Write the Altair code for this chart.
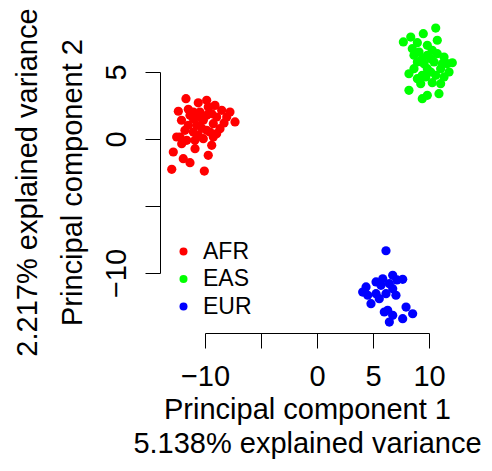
import altair as alt
import pandas as pd

afr_x = [-11.70, -9.85, -12.38, -11.49, -9.11, -7.77, -7.32, -8.51, -9.40, -10.45,
         -11.04, -10.15, -9.26, -11.49, -10.74, -8.66, -11.79, -9.85, -10.60, -12.53,
         -9.26, -11.63, -10.15, -12.08, -9.40, -10.89, -12.83, -9.71, -11.94, -11.34,
         -12.97, -10.06, -11.04, -9.85, -10.45, -9.71, -8.96, -11.34, -10.29, -11.04,
         -9.55, -8.06, -8.96, -12.23, -10.60, -10.90, -8.30, -12.10]
afr_y = [3.01, 2.89, 2.07, 2.22, 2.51, 2.01, 1.27, 2.14, 1.89, 2.01,
         1.51, 1.40, 1.14, 1.02, 1.02, 0.77, 0.65, 0.65, 0.28, 0.15,
         0.15, -0.10, 0.02, -0.35, -0.47, -0.72, -0.97, -1.22, -1.47, -1.77,
         -2.26, -2.39, 2.01, 1.77, 1.64, 2.39, 1.64, 1.77, 0.80, 0.52,
         0.52, 1.64, 0.40, 0.15, 2.70, -0.10, 1.20, 1.40]

eas_x = [10.60, 8.37, 9.49, 7.71, 8.96, 10.74, 8.51, 9.85, 9.85, 8.66,
         10.74, 11.34, 12.08, 11.63, 10.45, 9.55, 8.66, 9.85, 11.04, 11.79,
         8.21, 9.40, 10.60, 11.34, 9.26, 10.29, 8.21, 9.85, 10.89, 9.40,
         9.11, 10.29, 10.15, 9.40, 11.19, 8.96, 10.15, 9.71, 8.96, 11.04]
eas_y = [8.28, 7.61, 7.86, 7.24, 7.19, 7.37, 6.74, 6.99, 6.25, 6.25,
         6.37, 6.12, 5.69, 5.62, 5.75, 5.62, 5.25, 5.25, 5.25, 5.00,
         4.87, 4.75, 4.75, 4.63, 4.13, 4.20, 3.63, 3.26, 3.38, 3.01,
         6.49, 6.62, 5.99, 5.99, 5.62, 5.75, 5.00, 4.63, 4.50, 4.13]

eur_x = [6.16, 7.65, 6.76, 5.87, 4.38, 5.71, 6.46, 6.16, 7.05, 4.08,
         4.82, 6.31, 7.95, 8.54, 7.65, 6.46, 6.76, 5.27, 4.53, 5.56,
         6.01, 5.27, 6.76, 7.14]
eur_y = [-8.34, -10.47, -10.17, -10.43, -11.04, -10.92, -10.80, -11.54, -11.66, -11.42,
         -12.29, -12.78, -12.54, -13.04, -13.41, -13.66, -13.16, -10.67, -11.66, -11.92,
         -12.91, -11.54, -11.17, -10.52]

groups = ["AFR", "EAS", "EUR"]
colors = ["#FF0000", "#00FF00", "#0000FF"]
x_ticks = [-10, -5, 0, 5, 10]
y_ticks = [-10, -5, 0, 5]

df = pd.concat([
    pd.DataFrame({"pc1": afr_x, "pc2": afr_y, "pop": "AFR"}),
    pd.DataFrame({"pc1": eas_x, "pc2": eas_y, "pop": "EAS"}),
    pd.DataFrame({"pc1": eur_x, "pc2": eur_y, "pop": "EUR"}),
], ignore_index=True)

FONT = "Liberation Sans"
FS = 29

chart = alt.Chart(df).mark_circle(size=85, opacity=1).encode(
    x=alt.X("pc1:Q",
            scale=alt.Scale(domain=[-10, 10], nice=False, zero=False),
            axis=alt.Axis(values=x_ticks, labelExpr="datum.value == -5 ? '' : datum.label",
                          grid=False, offset=60, tickSize=15, labelPadding=37,
                          labelBaseline="alphabetic", labelFontSize=FS, labelFont=FONT,
                          labelColor="#000000", labelFlush=False, labelOverlap=False,
                          domainColor="#000000", tickColor="#000000",
                          domainWidth=1, tickWidth=1,
                          title=["Principal component 1", "5.138% explained variance"],
                          titleFontSize=FS, titleFont=FONT, titleFontWeight="normal",
                          titleColor="#000000", titleBaseline="alphabetic",
                          titleAlign="center", titleX=102, titleY=85, titleLineHeight=34)),
    y=alt.Y("pc2:Q",
            scale=alt.Scale(domain=[-10, 5], nice=False, zero=False),
            axis=alt.Axis(values=y_ticks, labelExpr="datum.value == -5 ? '' : datum.label",
                          grid=False, offset=45, tickSize=15, labelPadding=20,
                          labelAngle=270, labelAlign="center", labelBaseline="alphabetic",
                          labelFontSize=FS, labelFont=FONT,
                          labelColor="#000000", labelFlush=False, labelOverlap=False,
                          domainColor="#000000", tickColor="#000000",
                          domainWidth=1, tickWidth=1,
                          title=["2.217% explained variance", "Principal component 2"],
                          titleFontSize=FS, titleFont=FONT, titleFontWeight="normal",
                          titleColor="#000000", titleBaseline="alphabetic", titleAngle=270,
                          titleAlign="center", titleX=-124, titleY=110, titleLineHeight=45)),
    color=alt.Color("pop:N",
                    scale=alt.Scale(domain=groups, range=colors),
                    legend=alt.Legend(title=None, orient="none", legendX=-33, legendY=168,
                                      symbolType="circle", symbolSize=64,
                                      symbolStrokeWidth=0, labelFontSize=23,
                                      labelFont=FONT, labelColor="#000000",
                                      labelOffset=8, rowPadding=3.5, padding=0,
                                      direction="vertical")),
).properties(
    width=224,
    height=201,
    autosize=alt.AutoSizeParams(type="none"),
    padding={"left": 197, "top": 64, "right": 55, "bottom": 190},
).configure(
    background="white",
    view=alt.ViewConfig(stroke="transparent", strokeWidth=0),
)

chart.save("out.html", embed_options={"renderer": "svg", "actions": False})
